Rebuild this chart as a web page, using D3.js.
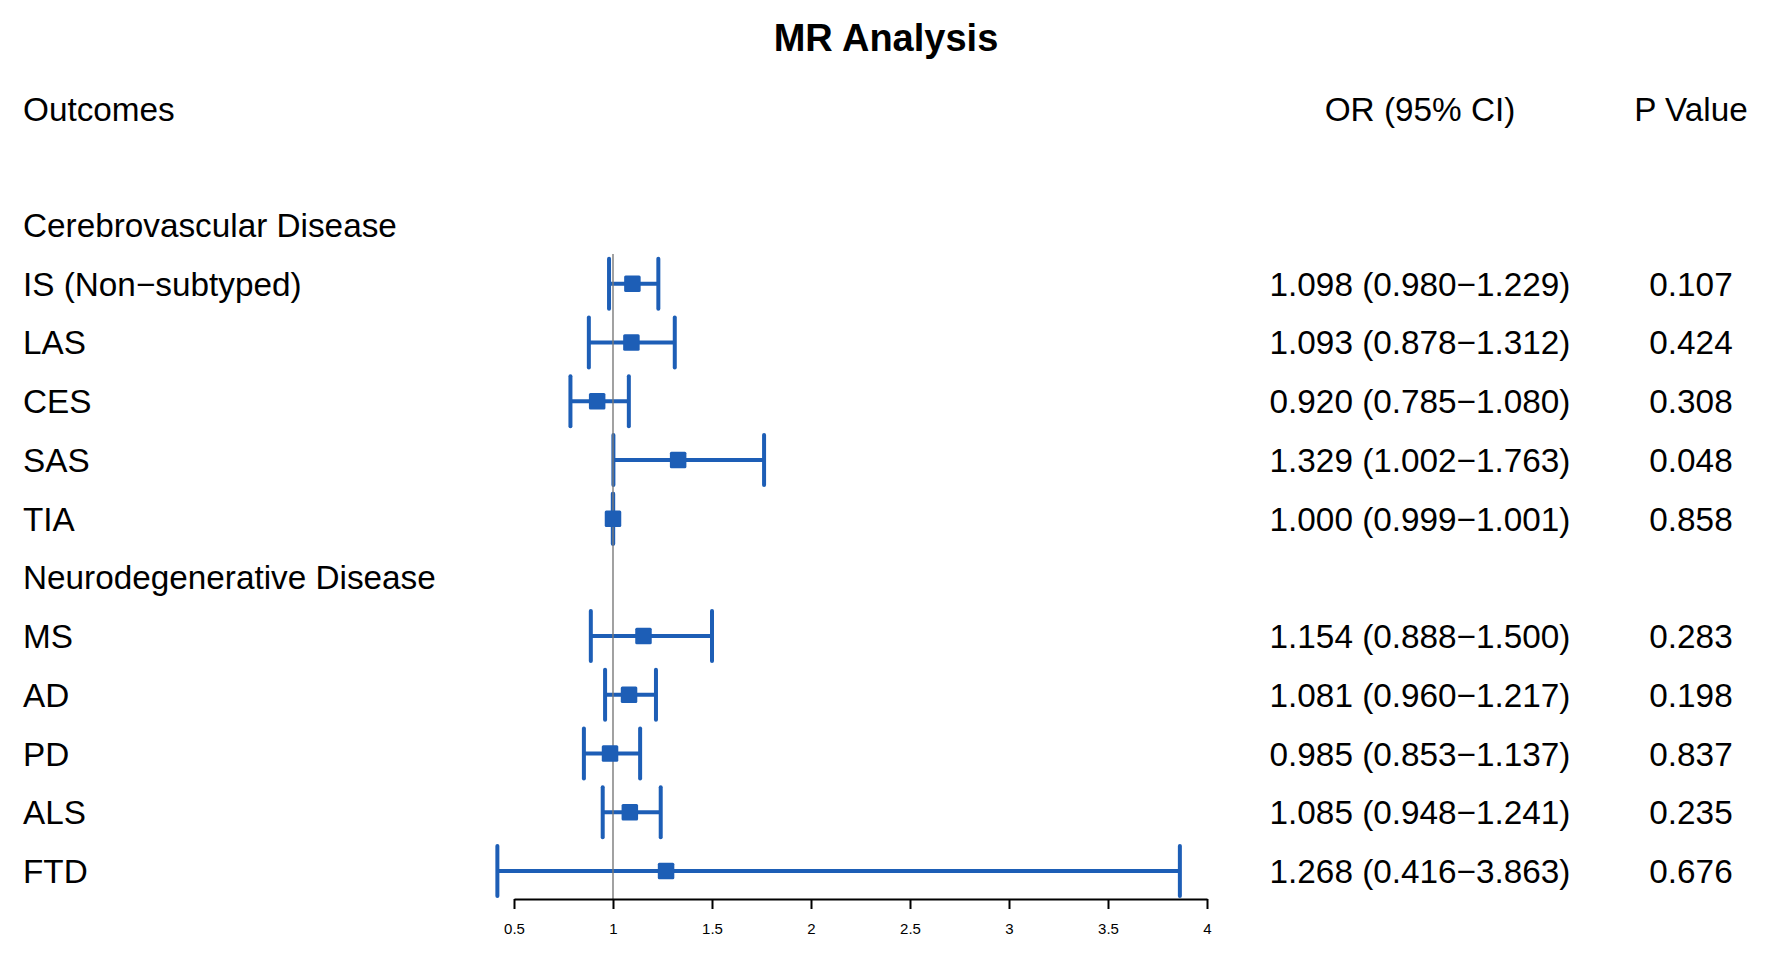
<!DOCTYPE html>
<html>
<head>
<meta charset="utf-8">
<script src="https://cdn.jsdelivr.net/npm/d3@7"></script>
<style>
  html, body { margin: 0; padding: 0; background: #ffffff; }
  svg { display: block; }
  text { font-family: "Liberation Sans", Arial, Helvetica, sans-serif; fill: #000; }
</style>
</head>
<body>
<svg id="chart" width="1772" height="960"></svg>
<script>
// ---- Data ----
const title = "MR Analysis";
const headers = ["Outcomes", "OR (95% CI)", "P Value"];
const groupNames = ["Cerebrovascular Disease", "Neurodegenerative Disease"];
const outcomeGroup = [0, 0, 0, 0, 0, 1, 1, 1, 1, 1];
const outcomes = ["IS (Non\u2212subtyped)", "LAS", "CES", "SAS", "TIA", "MS", "AD", "PD", "ALS", "FTD"];
const orValues = [1.098, 1.093, 0.920, 1.329, 1.000, 1.154, 1.081, 0.985, 1.085, 1.268];
const lowerCI  = [0.980, 0.878, 0.785, 1.002, 0.999, 0.888, 0.960, 0.853, 0.948, 0.416];
const upperCI  = [1.229, 1.312, 1.080, 1.763, 1.001, 1.500, 1.217, 1.137, 1.241, 3.863];
const pValues  = ["0.107", "0.424", "0.308", "0.048", "0.858", "0.283", "0.198", "0.837", "0.235", "0.676"];
const tickValues = [0.5, 1, 1.5, 2, 2.5, 3, 3.5, 4];
const tickLabels = ["0.5", "1", "1.5", "2", "2.5", "3", "3.5", "4"];
const refValue = 1;

// ---- Build rows (group header rows + outcome rows) ----
const rows = [];
let lastGroup = -1;
outcomes.forEach((name, i) => {
  if (outcomeGroup[i] !== lastGroup) {
    rows.push({ type: "group", label: groupNames[outcomeGroup[i]] });
    lastGroup = outcomeGroup[i];
  }
  rows.push({ type: "item", label: name, or: orValues[i], lo: lowerCI[i], hi: upperCI[i], p: pValues[i] });
});

// ---- Layout ----
const blue = "#1d5eb6";
const fontSize = 33.3;
const colOR = 1420, colP = 1691, colLabel = 23;
const svg = d3.select("#chart");

const x = d3.scaleLinear().domain([0.5, 4]).range([514, 1207]);
const y = d3.scaleLinear().domain([0, rows.length - 1]).range([225, 871]);
const axisY = 899;
const capH = 50, boxS = 16.5, sw = 4;

// Title
svg.append("text")
  .attr("x", 886).attr("y", 51)
  .attr("text-anchor", "middle")
  .attr("font-size", 38).attr("font-weight", "bold")
  .text(title);

// Headers
const headerY = 109;
svg.append("text").attr("x", colLabel).attr("y", headerY).attr("dy", "0.36em")
  .attr("font-size", fontSize).text(headers[0]);
svg.append("text").attr("x", colOR).attr("y", headerY).attr("dy", "0.36em")
  .attr("text-anchor", "middle").attr("font-size", fontSize).text(headers[1]);
svg.append("text").attr("x", colP).attr("y", headerY).attr("dy", "0.36em")
  .attr("text-anchor", "middle").attr("font-size", fontSize).text(headers[2]);

// Row labels
const rowG = svg.append("g").selectAll("g").data(rows).join("g")
  .attr("transform", (d, i) => `translate(0,${y(i)})`);

rowG.append("text")
  .attr("x", colLabel).attr("dy", "0.36em")
  .attr("font-size", fontSize)
  .text(d => d.label);

const items = rowG.filter(d => d.type === "item");

items.append("text")
  .attr("x", colOR).attr("dy", "0.36em")
  .attr("text-anchor", "middle").attr("font-size", fontSize)
  .text(d => `${d3.format(".3f")(d.or)} (${d3.format(".3f")(d.lo)}\u2212${d3.format(".3f")(d.hi)})`);

items.append("text")
  .attr("x", colP).attr("dy", "0.36em")
  .attr("text-anchor", "middle").attr("font-size", fontSize)
  .text(d => d.p);

// CI lines & caps
items.append("line")
  .attr("x1", d => x(d.lo)).attr("x2", d => x(d.hi))
  .attr("y1", 0).attr("y2", 0)
  .attr("stroke", blue).attr("stroke-width", sw);
items.append("line")
  .attr("x1", d => x(d.lo)).attr("x2", d => x(d.lo))
  .attr("y1", -capH / 2).attr("y2", capH / 2)
  .attr("stroke", blue).attr("stroke-width", sw).attr("stroke-linecap", "round");
items.append("line")
  .attr("x1", d => x(d.hi)).attr("x2", d => x(d.hi))
  .attr("y1", -capH / 2).attr("y2", capH / 2)
  .attr("stroke", blue).attr("stroke-width", sw).attr("stroke-linecap", "round");

// Reference line
svg.append("line")
  .attr("x1", x(refValue)).attr("x2", x(refValue))
  .attr("y1", 254).attr("y2", axisY)
  .attr("stroke", "#7a7a7a").attr("stroke-width", 1.4);

// Boxes
svg.append("g").selectAll("rect").data(rows.map((d, i) => ({ d, i })).filter(o => o.d.type === "item"))
  .join("rect")
  .attr("x", o => x(o.d.or) - boxS / 2)
  .attr("y", o => y(o.i) - boxS / 2)
  .attr("width", boxS).attr("height", boxS)
  .attr("rx", 1.5)
  .attr("fill", blue);

// X axis
const axis = d3.axisBottom(x)
  .tickValues(tickValues)
  .tickFormat((d, i) => tickLabels[i])
  .tickSize(10)
  .tickSizeOuter(0)
  .tickPadding(14);
const ax = svg.append("g").attr("transform", `translate(0,${axisY})`).call(axis);
ax.select(".domain").attr("stroke", "#000").attr("stroke-width", 2);
ax.selectAll(".tick line").attr("stroke", "#000").attr("stroke-width", 2);
ax.selectAll(".tick text")
  .attr("font-size", 15)
  .attr("font-family", "\"Liberation Sans\", Arial, Helvetica, sans-serif")
  .attr("fill", "#000");
</script>
</body>
</html>
